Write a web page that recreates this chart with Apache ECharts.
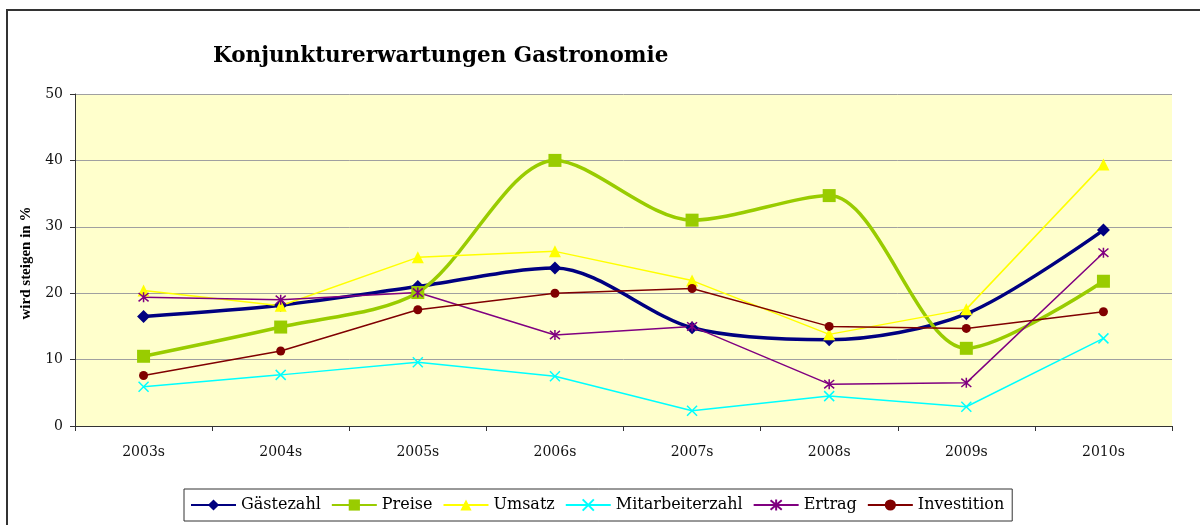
<!DOCTYPE html>
<html>
<head>
<meta charset="utf-8">
<script src="https://cdn.jsdelivr.net/npm/echarts@6/dist/echarts.min.js"></script>
<style>html,body{margin:0;padding:0;background:#fff;overflow:hidden;}#c{width:1200px;height:525px;}</style>
</head>
<body>
<div id="c"></div>
<script>
const categories = ['2003s','2004s','2005s','2006s','2007s','2008s','2009s','2010s'];
const gaestezahl = [16.5, 18.2, 21.0, 23.8, 14.8, 13.0, 16.9, 29.5];
const preise = [10.5, 14.9, 20.1, 40.0, 31.0, 34.7, 11.7, 21.8];
const umsatz = [20.4, 18.1, 25.4, 26.3, 21.9, 13.8, 17.6, 39.4];
const mitarbeiterzahl = [5.9, 7.7, 9.6, 7.5, 2.3, 4.5, 2.9, 13.2];
const ertrag = [19.4, 19.0, 20.1, 13.7, 15.0, 6.3, 6.5, 26.1];
const investition = [7.6, 11.3, 17.5, 20.0, 20.7, 15.0, 14.7, 17.2];
const yTicks = [0, 10, 20, 30, 40, 50];

const FONT = 'DejaVu Serif';
const X_PATH = 'path://M0,0L10,10M10,0L0,10';
const STAR_PATH = 'path://M0,0L10,10M10,0L0,10M5,-1L5,11';

function mk(name, data, color, lw, symbol, size, smooth, extraItem) {
  return {
    name, type: 'line', data, smooth,
    symbol, symbolSize: size,
    lineStyle: { color, width: lw },
    itemStyle: Object.assign({ color }, extraItem || {}),
    emphasis: { disabled: true },
    z: 3
  };
}

const chart = echarts.init(document.getElementById('c'));
chart.setOption({
  animation: false,
  backgroundColor: '#fff',
  graphic: [{
    type: 'polyline', z: -10, silent: true,
    shape: { points: [[7, 600], [7, 10], [1300, 10]] },
    style: { fill: 'none', stroke: '#333', lineWidth: 2 }
  }],
  title: {
    text: 'Konjunkturerwartungen Gastronomie',
    left: 208, top: 40,
    textStyle: { fontFamily: FONT, fontWeight: 'bold', fontSize: 21.5, color: '#000' }
  },
  grid: {
    left: 75, right: 28, top: 94, bottom: 99,
    show: true, backgroundColor: '#FFFFCC', borderWidth: 0
  },
  legend: {
    left: 184, top: 489,
    padding: [8, 8, 8, 6],
    itemGap: 10, itemWidth: 45, itemHeight: 14,
    borderColor: '#333', borderWidth: 1, backgroundColor: '#fff',
    textStyle: { fontFamily: FONT, fontSize: 16, color: '#000' },
    data: ['Gästezahl','Preise','Umsatz','Mitarbeiterzahl','Ertrag','Investition']
  },
  xAxis: {
    type: 'category', data: categories, boundaryGap: true,
    axisLine: { lineStyle: { color: '#333', width: 1 } },
    axisTick: { show: true, length: 5, lineStyle: { color: '#333' } },
    axisLabel: { fontFamily: FONT, fontSize: 14, color: '#111', margin: 19 },
    splitLine: { show: false }
  },
  yAxis: {
    type: 'value', min: yTicks[0], max: yTicks[yTicks.length-1], interval: 10,
    name: 'wird steigen in %', nameLocation: 'middle', nameGap: 41, nameRotate: 90,
    nameTextStyle: { fontFamily: 'Liberation Serif', fontWeight: 'bold', fontSize: 15, color: '#000', padding: [0, 6, 0, 0] },
    axisLine: { show: true, lineStyle: { color: '#333', width: 1 } },
    axisTick: { show: true, length: 5, lineStyle: { color: '#333' } },
    axisLabel: { fontFamily: FONT, fontSize: 14, color: '#111', margin: 12 },
    splitLine: { show: true, lineStyle: { color: '#A0A0A0', width: 1 } }
  },
  series: [
    mk('Gästezahl', gaestezahl, '#000080', 3.5, 'diamond', 13, 0.3),
    mk('Preise', preise, '#99CC00', 3.5, 'rect', 13, 0.3),
    mk('Umsatz', umsatz, '#FFFF00', 1.5, 'triangle', 12, false),
    mk('Mitarbeiterzahl', mitarbeiterzahl, '#00FFFF', 1.5, X_PATH, 10, false, { borderColor: '#00FFFF', borderWidth: 1.5 }),
    mk('Ertrag', ertrag, '#800080', 1.5, STAR_PATH, 10, false, { borderColor: '#800080', borderWidth: 1.5 }),
    mk('Investition', investition, '#800000', 1.5, 'circle', 9, false)
  ]
});
</script>
</body>
</html>
